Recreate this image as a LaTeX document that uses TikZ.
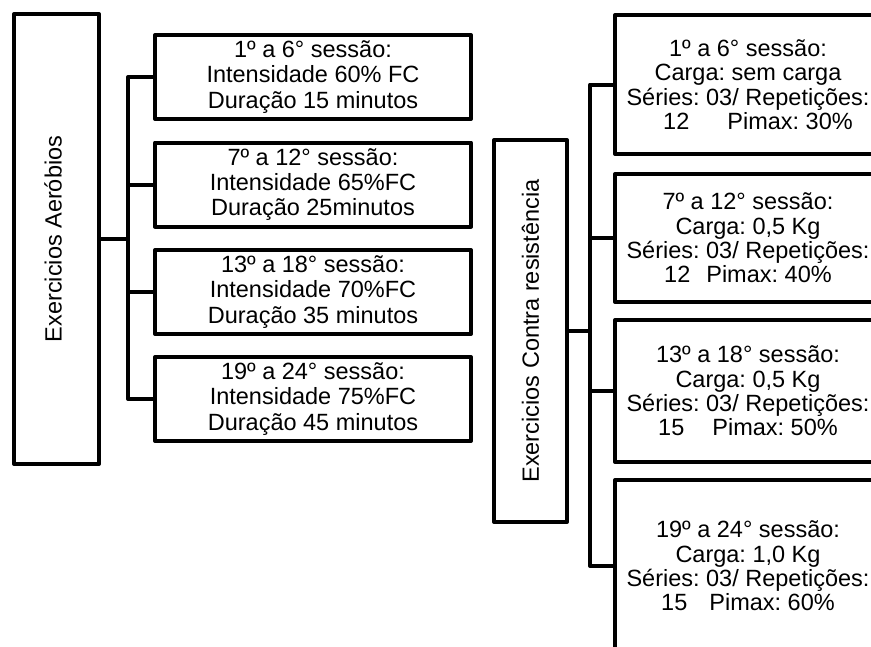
\documentclass[tikz,border=0pt]{standalone}
\usepackage{fontspec}
\setmainfont{Liberation Sans}
\begin{document}
\frenchspacing
\begin{tikzpicture}[x=1pt,y=-1pt,
  box/.style={draw, line width=4pt, line join=round, inner sep=0pt, outer sep=0pt, align=center},
  lbox/.style={box, minimum width=316pt, minimum height=84pt, font=\fontsize{23.5}{25.3}\selectfont},
  rbox/.style={box, minimum width=266pt, font=\fontsize{23.5}{24.4}\selectfont},
  bigbox/.style={box, font=\fontsize{23.5}{25}\selectfont},
  wire/.style={line width=4pt, line join=round}]
\clip (0,0) rectangle (871,646);
\fill[white] (0,0) rectangle (871,646);
% left group
\node[bigbox, minimum width=85pt, minimum height=450pt] (A) at (56.5,239) {\rotatebox{90}{Exercicios Aeróbios}\hspace*{7pt}};
\node[lbox] (B1) at (313,77) {1º a 6° sessão:\\Intensidade 60\% FC\\Duração 15 minutos};
\node[lbox] (B2) at (313,184.5) {7º a 12° sessão:\\Intensidade 65\%FC\\Duração 25minutos};
\node[lbox] (B3) at (313,292) {13º a 18° sessão:\\Intensidade 70\%FC\\Duração 35 minutos};
\node[lbox] (B4) at (313,399) {19º a 24° sessão:\\Intensidade 75\%FC\\Duração 45 minutos};
\coordinate (J1) at (128,239);
\draw[wire] (A.east) -- (J1);
\draw[wire] (B1.west) -| (J1) |- (B4.west);
\draw[wire] (J1) |- (B2.west);
\draw[wire] (J1) |- (B3.west);
% right group
\node[bigbox, minimum width=73pt, minimum height=382pt] (C) at (530.5,331) {\rotatebox{90}{Exercicios Contra resistência}};
\node[rbox, minimum height=139pt] (D1) at (748,84.5) {1º a 6° sessão:\\Carga: sem carga\\Séries: 03/ Repetições:\\\hspace*{20pt}12\hspace{38pt}Pimax: 30\%};
\node[rbox, minimum height=128pt] (D2) at (748,238) {7º a 12° sessão:\\Carga: 0,5 Kg\\Séries: 03/ Repetições:\\12\hspace{16pt}Pimax: 40\%};
\node[rbox, minimum height=142pt] (D3) at (748,391) {13º a 18° sessão:\\Carga: 0,5 Kg\\Séries: 03/ Repetições:\\15\hspace{28pt}Pimax: 50\%};
\node[rbox, minimum height=172pt] (D4) at (748,566) {19º a 24° sessão:\\Carga: 1,0 Kg\\Séries: 03/ Repetições:\\15\hspace{22pt}Pimax: 60\%};
\coordinate (J2) at (590,331);
\draw[wire] (C.east) -- (J2);
\draw[wire] (D1.west) -| (J2) |- (D4.west);
\draw[wire] (J2) |- (D2.west);
\draw[wire] (J2) |- (D3.west);
\end{tikzpicture}
\end{document}
